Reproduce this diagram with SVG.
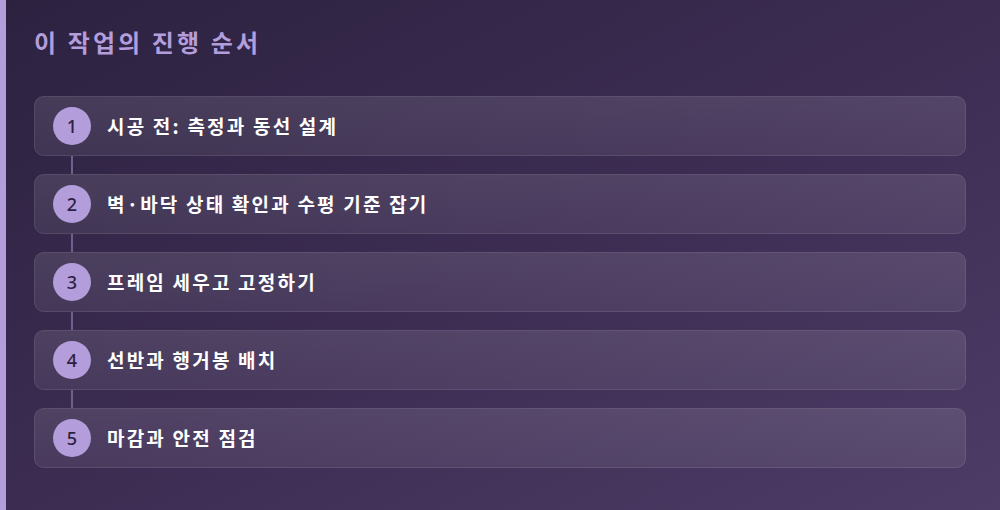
<svg xmlns="http://www.w3.org/2000/svg" width="1000" height="510" viewBox="0 0 1000 510">
<defs>
<linearGradient id="bg" x1="0" y1="0" x2="1" y2="1">
<stop offset="0" stop-color="#2c2240"/>
<stop offset="0.5" stop-color="#3c2c52"/>
<stop offset="1" stop-color="#4d3c66"/>
</linearGradient>
<linearGradient id="card" x1="0" y1="0" x2="0" y2="1">
<stop offset="0" stop-color="#ffffff" stop-opacity="0.11"/>
<stop offset="1" stop-color="#ffffff" stop-opacity="0.07"/>
</linearGradient>
<style>
.card{fill:url(#card);stroke:#ffffff;stroke-opacity:0.13;stroke-width:1}
.dot{fill:#b39ddb}
.num{font-family:"Noto Sans","Noto Sans CJK KR",sans-serif;font-size:18px;font-weight:500;fill:#2c2240;text-anchor:middle;dominant-baseline:central}
.lbl{font-family:"Noto Sans CJK KR","Noto Sans",sans-serif;font-size:19px;font-weight:700;fill:#ffffff;dominant-baseline:central;letter-spacing:2.2px}
.conn{stroke:#6f5f8c;stroke-width:2}
</style>
</defs>
<rect width="1000" height="510" fill="url(#bg)"/>
<rect x="0" y="0" width="6" height="510" fill="#b39ddb"/>
<text x="34" y="52" font-family="Noto Sans CJK KR,Noto Sans,sans-serif" font-size="24" font-weight="700" fill="#b39ddb" letter-spacing="3.1">이 작업의 진행 순서</text>
<g id="connectors">
<line class="conn" x1="72" y1="156" x2="72" y2="174"/>
<line class="conn" x1="72" y1="234" x2="72" y2="252"/>
<line class="conn" x1="72" y1="312" x2="72" y2="330"/>
<line class="conn" x1="72" y1="390" x2="72" y2="408"/>
</g>
<g id="step1">
<rect class="card" x="34.5" y="96.5" width="931" height="59" rx="9"/>
<circle class="dot" cx="72" cy="126" r="19"/>
<text class="num" x="72" y="126">1</text>
<text class="lbl" x="107" y="125">시공 전: 측정과 동선 설계</text>
</g>
<g id="step2">
<rect class="card" x="34.5" y="174.5" width="931" height="59" rx="9"/>
<circle class="dot" cx="72" cy="204" r="19"/>
<text class="num" x="72" y="204">2</text>
<text class="lbl" x="107" y="203">벽·바닥 상태 확인과 수평 기준 잡기</text>
</g>
<g id="step3">
<rect class="card" x="34.5" y="252.5" width="931" height="59" rx="9"/>
<circle class="dot" cx="72" cy="282" r="19"/>
<text class="num" x="72" y="282">3</text>
<text class="lbl" x="107" y="281">프레임 세우고 고정하기</text>
</g>
<g id="step4">
<rect class="card" x="34.5" y="330.5" width="931" height="59" rx="9"/>
<circle class="dot" cx="72" cy="360" r="19"/>
<text class="num" x="72" y="360">4</text>
<text class="lbl" x="107" y="359">선반과 행거봉 배치</text>
</g>
<g id="step5">
<rect class="card" x="34.5" y="408.5" width="931" height="59" rx="9"/>
<circle class="dot" cx="72" cy="438" r="19"/>
<text class="num" x="72" y="438">5</text>
<text class="lbl" x="107" y="437">마감과 안전 점검</text>
</g>
</svg>
